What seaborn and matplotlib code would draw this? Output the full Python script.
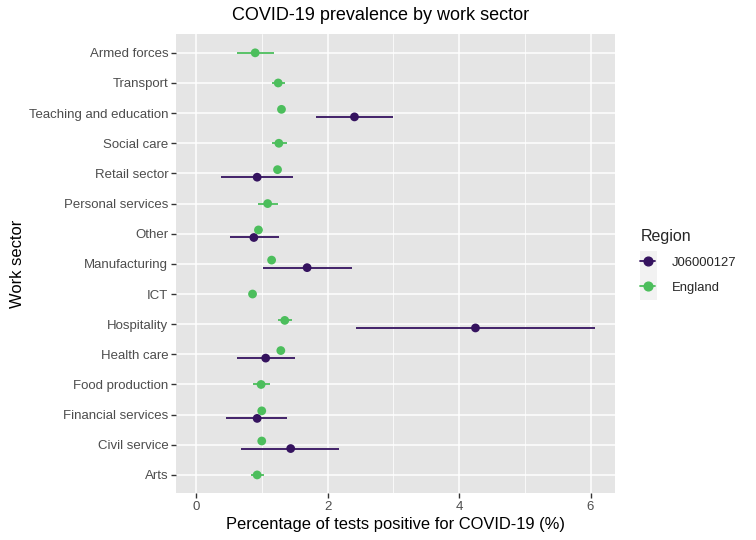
import numpy as np
import pandas as pd
import seaborn as sns
import matplotlib.pyplot as plt
from matplotlib.lines import Line2D
from matplotlib.patches import Rectangle
from matplotlib.ticker import MultipleLocator

# sectors, top of the chart first
sectors = ["Armed forces", "Transport", "Teaching and education", "Social care",
           "Retail sector", "Personal services", "Other", "Manufacturing", "ICT",
           "Hospitality", "Health care", "Food production", "Financial services",
           "Civil service", "Arts"]

# England estimates with 95% interval
eng_est = [0.90, 1.25, 1.30, 1.26, 1.24, 1.09, 0.95, 1.15, 0.86, 1.35, 1.29, 0.99, 1.00, 1.00, 0.93]
eng_lo = [0.62, 1.15, 1.26, 1.15, 1.20, 0.94, 0.91, 1.11, 0.83, 1.24, 1.25, 0.86, 0.97, 0.97, 0.84]
eng_hi = [1.19, 1.35, 1.34, 1.38, 1.28, 1.25, 0.99, 1.19, 0.89, 1.46, 1.33, 1.12, 1.03, 1.03, 1.03]

# J06000127 (only sectors with data)
j06_sectors = ["Teaching and education", "Retail sector", "Other", "Manufacturing",
               "Hospitality", "Health care", "Financial services", "Civil service"]
j06_est = [2.41, 0.93, 0.88, 1.69, 4.25, 1.06, 0.93, 1.44]
j06_lo = [1.83, 0.38, 0.51, 1.02, 2.43, 0.63, 0.46, 0.69]
j06_hi = [2.99, 1.47, 1.26, 2.37, 6.07, 1.50, 1.39, 2.18]

regions = ["J06000127", "England"]
colours = {"J06000127": "#35135F", "England": "#4CBE5C"}

df = pd.concat([
    pd.DataFrame({"sector": j06_sectors, "region": "J06000127",
                  "est": j06_est, "lo": j06_lo, "hi": j06_hi}),
    pd.DataFrame({"sector": sectors, "region": "England",
                  "est": eng_est, "lo": eng_lo, "hi": eng_hi}),
], ignore_index=True)

# dodge like ggplot: centred when a sector has only one region
n_per = df.groupby("sector")["region"].transform("count")
shift = np.where(df["region"] == "England", -0.125, 0.125)
df["ypos"] = df["sector"].map({s: i for i, s in enumerate(sectors)}) + np.where(n_per > 1, shift, 0.0)

sns.set_theme(style="darkgrid", rc={
    "axes.facecolor": "#E5E5E5", "grid.color": "white", "grid.linewidth": 1.1,
    "axes.edgecolor": "none", "xtick.bottom": True, "ytick.left": True,
    "xtick.color": "#333333", "ytick.color": "#333333",
    "xtick.major.size": 3.5, "ytick.major.size": 3.5,
    "xtick.major.width": 1.0, "ytick.major.width": 1.0,
    "xtick.major.pad": 2, "ytick.major.pad": 2,
})
plt.rcParams["font.family"] = ["Liberation Sans", "DejaVu Sans"]

fig = plt.figure(figsize=(7.56, 5.4), dpi=100)
ax = fig.add_axes([0.2328, 0.087, 0.5807, 0.8498])

for reg in regions:
    sub = df[df["region"] == reg]
    ax.hlines(sub["ypos"], sub["lo"], sub["hi"], color=colours[reg], lw=1.3, zorder=3)
sns.scatterplot(data=df, x="est", y="ypos", hue="region", hue_order=regions,
                palette=colours, s=40, edgecolor="none", legend=False, ax=ax, zorder=4)

ax.set_xlim(-0.304, 6.372)
ax.set_ylim(len(sectors) - 0.4, -0.62)
ax.set_yticks(range(len(sectors)))
ax.set_yticklabels(sectors)
ax.xaxis.set_major_locator(MultipleLocator(2))
ax.xaxis.set_minor_locator(MultipleLocator(1))
ax.grid(which="minor", axis="x", color="white", lw=0.55)
ax.tick_params(axis="both", labelsize=9.5, labelcolor="#4D4D4D")
ax.tick_params(which="minor", length=0)

ax.set_xlabel("Percentage of tests positive for COVID-19 (%)", fontsize=11.9, color="black", labelpad=3)
ax.set_ylabel("Work sector", fontsize=11.9, color="black", labelpad=3)
fig.text(381 / 756, 1 - 16 / 540, "COVID-19 prevalence by work sector", fontsize=13,
         color="black", ha="center", va="center")

# legend with grey key boxes
fig.add_artist(Rectangle((640 / 756, 1 - 300 / 540), 17 / 756, 49 / 540,
                         transform=fig.transFigure, facecolor="#F2F2F2",
                         edgecolor="none", zorder=-1))
handles = [Line2D([], [], color=colours[r], marker="o", markersize=6.3, lw=1.3) for r in regions]
leg = fig.legend(handles, regions, title="Region", loc="upper left",
                 bbox_to_anchor=(0.835, 0.592), frameon=False, fontsize=9.4,
                 title_fontsize=11.5, handlelength=1.1, handletextpad=1.3,
                 labelspacing=0.95, alignment="left", borderaxespad=0.3)

fig.savefig("out.png", dpi=100)
